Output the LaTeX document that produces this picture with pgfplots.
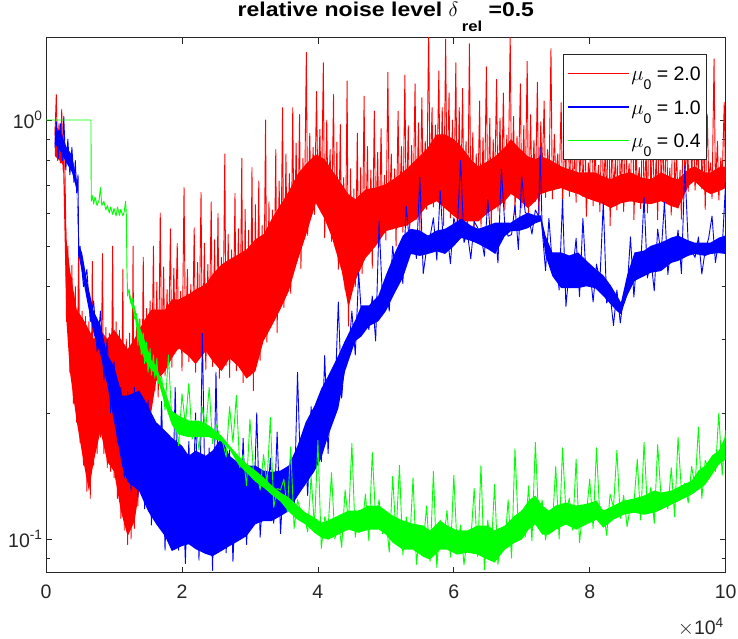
\documentclass[border=0pt]{standalone}
\usepackage{fontspec}
\setmainfont{Liberation Sans}
\newfontfamily\titlefont{Liberation Sans}[FakeStretch=1.15]
\usepackage{pgfplots}
\pgfplotsset{compat=1.18}
\definecolor{mred}{rgb}{1,0,0}
\definecolor{mblue}{rgb}{0,0,1}
\definecolor{mgreen}{rgb}{0,1,0}
\begin{document}
\begin{tikzpicture}
\begin{axis}[
  scale only axis, width=679.5pt, height=534.8pt,
  xmin=0, xmax=10, ymode=log, ymin=0.0832, ymax=1.572,
  xtick={0,2,4,6,8,10},
  ytick={0.1,1}, yticklabels={10\textsuperscript{-1},10\textsuperscript{0}},
  minor ytick={0.09,0.2,0.3,0.4,0.5,0.6,0.7,0.8,0.9},
  major tick length=6pt, minor tick length=3.5pt,
  axis line style={black!85, line width=0.8pt},
  tick style={black!85, line width=0.8pt},
  tick label style={font=\fontsize{19.5}{19.5}\selectfont, text=black!85},
  /pgf/number format/assume math mode=true,
  xticklabel style={yshift=-9pt},
  title={\titlefont\bfseries relative noise level $\delta$\,\raisebox{-15pt}{\fontsize{14.5}{14.5}\selectfont rel} =0.5},
  title style={at={(0.5,1)}, anchor=base, yshift=14.7pt, font=\fontsize{20}{20}\selectfont},
  legend style={at={(0.9726,0.9695)}, anchor=north east, draw=black!85, line width=0.6pt, fill=white,
    inner xsep=4pt, inner ysep=4pt, font=\fontsize{19.5}{19.5}\selectfont, row sep=3.7pt,
    nodes={inner sep=2pt, text height=20pt, text depth=6pt}},
  legend cell align=left,
  legend image code/.code={\draw[#1] (0pt,0pt) -- (61pt,0pt);},
  every axis plot/.append style={line join=round},
]
\coordinate (SW) at (rel axis cs:0,0);
\coordinate (SE) at (rel axis cs:1,0);
\coordinate (NE) at (rel axis cs:1,1);
\addlegendimage{draw=mred, line width=1.1pt}
\addlegendentry{$\mu$\raisebox{-9pt}{\fontsize{14}{14}\selectfont 0} = 2.0}
\addlegendimage{draw=mblue, line width=1.1pt}
\addlegendentry{$\mu$\raisebox{-9pt}{\fontsize{14}{14}\selectfont 0} = 1.0}
\addlegendimage{draw=mgreen, line width=1.1pt}
\addlegendentry{$\mu$\raisebox{-9pt}{\fontsize{14}{14}\selectfont 0} = 0.4}
% ---------- red band
\addplot[fill=mred, draw=none, forget plot] coordinates {
(0.13,0.97)(0.2,0.944)(0.25,0.918)(0.3,0.52)(0.35,0.44)(0.45,0.353)(0.55,0.334)(0.63,0.316)(0.7,0.30)(0.8,0.316)(0.9,0.30)(1.0,0.316)(1.1,0.30)(1.2,0.284)(1.3,0.30)(1.37,0.316)(1.45,0.334)(1.55,0.353)(1.62,0.353)(1.75,0.353)(1.85,0.373)(1.95,0.373)(2.1,0.384)(2.2,0.394)(2.35,0.406)(2.45,0.428)(2.58,0.452)(2.7,0.465)(2.83,0.478)(2.95,0.491)(3.08,0.519)(3.2,0.534)(3.32,0.58)(3.45,0.629)(3.57,0.675)(3.7,0.742)(3.82,0.784)(3.97,0.828)(4.1,0.806)(4.2,0.763)(4.35,0.703)(4.45,0.665)(4.55,0.647)(4.7,0.683)(4.85,0.69)(5.0,0.703)(5.15,0.73)(5.3,0.763)(5.45,0.806)(5.6,0.851)(5.75,0.924)(5.87,0.924)(6.0,0.90)(6.11,0.865)(6.25,0.806)(6.36,0.775)(6.5,0.797)(6.61,0.819)(6.75,0.861)(6.84,0.90)(6.95,0.861)(7.09,0.819)(7.2,0.806)(7.28,0.819)(7.4,0.806)(7.58,0.775)(7.7,0.763)(7.83,0.75)(7.95,0.75)(8.08,0.75)(8.2,0.733)(8.31,0.722)(8.46,0.742)(8.6,0.75)(8.75,0.73)(8.9,0.722)(9.05,0.75)(9.2,0.73)(9.3,0.722)(9.45,0.763)(9.54,0.775)(9.7,0.75)(9.78,0.75)(9.9,0.771)(10,0.775)
(10,0.688)(9.9,0.676)(9.78,0.666)(9.7,0.676)(9.54,0.715)(9.45,0.695)(9.3,0.616)(9.2,0.623)(9.05,0.64)(8.9,0.63)(8.75,0.633)(8.6,0.64)(8.46,0.633)(8.31,0.616)(8.2,0.63)(8.08,0.64)(7.95,0.651)(7.83,0.666)(7.7,0.676)(7.58,0.688)(7.4,0.676)(7.28,0.666)(7.2,0.64)(7.09,0.616)(6.95,0.648)(6.84,0.666)(6.75,0.64)(6.61,0.616)(6.5,0.60)(6.36,0.573)(6.25,0.573)(6.11,0.573)(6.0,0.59)(5.87,0.616)(5.75,0.64)(5.6,0.623)(5.45,0.58)(5.3,0.559)(5.15,0.552)(5.0,0.543)(4.85,0.50)(4.7,0.468)(4.55,0.413)(4.45,0.356)(4.35,0.436)(4.2,0.528)(4.1,0.58)(3.97,0.633)(3.82,0.528)(3.7,0.461)(3.57,0.39)(3.45,0.354)(3.32,0.322)(3.2,0.297)(3.08,0.2515)(2.95,0.2415)(2.83,0.258)(2.7,0.27)(2.58,0.2515)(2.45,0.266)(2.35,0.281)(2.2,0.2615)(2.1,0.273)(1.95,0.2856)(1.85,0.27)(1.75,0.2515)(1.62,0.238)(1.55,0.202)(1.45,0.171)(1.37,0.130)(1.3,0.110)(1.2,0.1016)(1.1,0.1166)(1.0,0.145)(0.9,0.153)(0.8,0.181)(0.7,0.153)(0.63,0.130)(0.55,0.153)(0.45,0.191)(0.35,0.251)(0.3,0.33)(0.25,0.78)(0.2,0.80)(0.13,0.82)
};
\addplot[mred, line width=0.9pt, forget plot] coordinates {
(0.13,0.92)(0.15,1.15)(0.17,0.80)(0.19,0.98)(0.21,0.79)(0.23,1.06)(0.25,0.76)(0.27,0.92)(0.29,0.55)(0.30,0.33)(0.32,0.50)(0.35,0.25)(0.38,0.45)(0.40,0.21)(0.43,0.40)(0.45,0.19)(0.48,0.52)(0.50,0.17)(0.53,0.35)(0.55,0.15)(0.58,0.34)(0.60,0.13)(0.63,0.33)(0.65,0.125)(0.68,0.46)(0.70,0.15)(0.73,0.32)(0.75,0.16)(0.78,0.33)(0.80,0.175)(0.83,0.48)(0.85,0.16)(0.88,0.32)(0.90,0.148)(0.93,0.31)(0.95,0.145)(0.98,0.50)(1.00,0.14)(1.03,0.33)(1.05,0.125)(1.08,0.315)(1.10,0.112)(1.13,0.44)(1.15,0.105)(1.18,0.30)(1.20,0.097)(1.23,0.31)(1.25,0.10)(1.28,0.50)(1.30,0.106)(1.33,0.32)(1.35,0.12)(1.38,0.335)(1.40,0.14)(1.43,0.47)(1.45,0.165)(1.48,0.355)
(1.50,0.18)(1.53,0.37)(1.55,0.218)(1.58,0.50)(1.60,0.226)(1.63,0.41)(1.65,0.218)(1.68,0.60)(1.70,0.27)(1.73,0.446)(1.75,0.245)(1.78,0.394)(1.80,0.27)(1.83,0.55)(1.85,0.257)(1.88,0.443)(1.90,0.297)(1.93,0.507)(1.95,0.284)(1.98,0.39)(2.00,0.252)(2.03,0.69)(2.05,0.30)(2.08,0.44)(2.10,0.265)(2.13,0.405)(2.15,0.275)(2.18,0.553)(2.20,0.25)(2.23,0.457)(2.25,0.286)(2.28,0.672)(2.30,0.275)(2.33,0.508)(2.35,0.254)(2.38,0.452)(2.40,0.30)(2.43,0.638)(2.45,0.258)(2.48,0.518)(2.50,0.268)(2.53,0.598)(2.55,0.242)(2.58,0.47)(2.60,0.269)(2.63,0.83)(2.65,0.26)(2.68,0.534)(2.70,0.243)(2.73,0.49)(2.75,0.29)(2.78,0.668)(2.80,0.252)(2.83,0.55)(2.85,0.262)(2.88,0.81)(2.90,0.236)(2.93,0.612)(2.95,0.258)(2.98,0.546)(3.00,0.245)(3.03,0.77)(3.05,0.226)(3.08,0.628)(3.10,0.282)(3.13,0.715)(3.15,0.267)(3.18,0.56)(3.20,0.302)(3.23,1.0)(3.25,0.295)(3.28,0.638)
(3.30,0.347)(3.33,0.61)(3.35,0.331)(3.38,0.85)(3.40,0.311)(3.43,0.715)(3.45,0.388)(3.48,1.07)(3.50,0.357)(3.53,0.83)(3.55,0.394)(3.58,0.745)(3.60,0.385)(3.63,1.07)(3.65,0.46)(3.68,0.88)(3.70,0.461)(3.73,1.03)(3.75,0.442)(3.78,0.81)(3.80,0.564)(3.83,1.45)(3.85,0.53)(3.88,0.93)(3.90,0.60)(3.93,0.86)(3.95,0.595)(3.98,1.17)(4.00,0.66)(4.03,0.95)(4.05,0.60)(4.08,1.37)(4.10,0.524)(4.13,1.0)(4.15,0.606)(4.18,0.85)(4.20,0.513)(4.23,1.15)(4.25,0.508)(4.28,0.886)(4.30,0.44)(4.33,0.975)(4.35,0.465)(4.38,0.73)(4.40,0.394)(4.43,1.24)(4.45,0.322)(4.48,0.765)(4.50,0.42)(4.53,0.685)(4.55,0.40)(4.58,0.93)(4.60,0.443)(4.63,0.77)(4.65,0.43)(4.68,1.14)(4.70,0.50)(4.73,0.864)(4.75,0.479)(4.78,0.76)(4.80,0.443)(4.83,1.05)(4.85,0.547)(4.88,0.837)(4.90,0.50)(4.93,0.953)(4.95,0.543)(4.98,0.738)
(5.00,0.517)(5.03,1.30)(5.05,0.582)(5.08,0.83)(5.10,0.549)(5.13,0.765)(5.15,0.50)(5.18,1.05)(5.20,0.607)(5.23,0.864)(5.25,0.54)(5.28,1.28)(5.30,0.575)(5.33,0.97)(5.35,0.539)(5.38,0.87)(5.40,0.61)(5.43,1.22)(5.45,0.58)(5.48,0.985)(5.50,0.537)(5.53,1.13)(5.55,0.667)(5.58,0.89)(5.60,0.612)(5.63,1.68)(5.65,0.678)(5.68,1.07)(5.70,0.62)(5.73,0.973)(5.75,0.683)(5.78,1.31)(5.80,0.63)(5.83,1.07)(5.85,0.56)(5.88,1.56)(5.90,0.67)(5.93,1.16)(5.95,0.584)(5.98,1.0)(6.00,0.607)(6.03,1.37)(6.05,0.555)(6.08,1.07)(6.10,0.613)(6.13,1.19)(6.15,0.573)(6.18,0.89)(6.20,0.519)(6.23,1.52)(6.25,0.628)(6.28,0.933)(6.30,0.557)(6.33,0.83)(6.35,0.59)(6.38,1.11)(6.40,0.555)(6.43,0.908)(6.45,0.63)(6.48,1.34)(6.50,0.60)(6.53,1.01)(6.55,0.549)(6.58,0.898)(6.60,0.674)(6.63,1.25)(6.65,0.607)(6.68,1.01)(6.70,0.651)(6.73,1.16)(6.75,0.61)(6.78,0.92)(6.80,0.697)(6.83,1.6)(6.85,0.666)(6.88,1.02)(6.90,0.594)(6.93,0.915)(6.95,0.71)(6.98,1.22)(7.00,0.617)(7.03,0.97)(7.05,0.643)(7.08,1.38)(7.10,0.588)(7.13,1.03)(7.15,0.672)(7.18,0.895)(7.20,0.64)(7.23,1.23)(7.25,0.594)(7.28,0.99)(7.30,0.731)(7.33,1.11)(7.35,0.653)(7.38,0.85)(7.40,0.696)(7.43,1.48)(7.45,0.648)(7.48,0.924)(7.50,0.729)(7.53,0.83)(7.55,0.687)(7.58,1.1)(7.60,0.62)(7.63,0.89)(7.65,0.745)(7.68,1.29)(7.70,0.657)(7.73,0.96)(7.75,0.691)(7.78,0.835)(7.80,0.636)(7.83,1.15)(7.85,0.708)(7.88,0.91)(7.90,0.657)(7.93,1.03)(7.95,0.589)(7.98,0.79)
(8.00,0.708)(8.03,1.38)(8.05,0.624)(8.08,0.87)(8.10,0.657)(8.13,0.78)(8.15,0.604)(8.18,1.05)(8.20,0.672)(8.23,0.847)(8.25,0.625)(8.28,1.22)(8.30,0.559)(8.33,0.914)(8.35,0.68)(8.38,0.81)(8.40,0.61)(8.43,1.12)(8.45,0.651)(8.48,0.903)(8.50,0.605)(8.53,1.02)(8.55,0.681)(8.58,0.787)(8.60,0.64)(8.63,1.37)(8.65,0.578)(8.68,0.853)(8.70,0.696)(8.73,0.77)(8.75,0.615)(8.78,1.03)(8.80,0.65)(8.83,0.838)(8.85,0.60)(8.88,1.22)(8.90,0.672)(8.93,0.924)(8.95,0.635)(8.98,0.824)(9.00,0.578)(9.03,1.15)(9.05,0.70)(9.08,0.897)(9.10,0.615)(9.13,1.0)(9.15,0.645)(9.18,0.768)(9.20,0.593)(9.23,1.34)(9.25,0.661)(9.28,0.838)(9.30,0.616)(9.33,0.76)(9.35,0.58)(9.38,1.06)(9.40,0.736)(9.43,0.88)(9.45,0.675)(9.48,1.3)(9.50,0.726)(9.53,0.978)(9.55,0.68)(9.58,0.85)(9.60,0.745)(9.63,1.16)(9.65,0.685)(9.68,0.914)(9.70,0.612)(9.73,1.03)(9.75,0.734)(9.78,0.79)(9.80,0.649)(9.83,1.4)(9.85,0.691)(9.88,0.89)(9.90,0.644)(9.93,0.812)(9.95,0.728)(9.98,1.1)(10.00,0.688)
};
% ---------- blue band
\addplot[fill=mblue, draw=none, forget plot] coordinates {
(0.13,0.937)(0.2,0.947)(0.3,0.862)(0.38,0.825)(0.45,0.719)(0.48,0.503)(0.53,0.482)(0.6,0.415)(0.7,0.35)(0.8,0.324)(0.9,0.275)(1.0,0.259)(1.12,0.22)(1.2,0.22)(1.37,0.226)(1.5,0.208)(1.62,0.19)(1.75,0.1815)(1.85,0.1746)(2.0,0.167)(2.1,0.158)(2.2,0.1626)(2.35,0.158)(2.45,0.1626)(2.58,0.1746)(2.7,0.158)(2.83,0.152)(2.95,0.1497)(3.08,0.1497)(3.2,0.1457)(3.32,0.1445)(3.45,0.1457)(3.57,0.1497)(3.7,0.167)(3.82,0.19)(3.95,0.208)(4.05,0.2286)(4.15,0.245)(4.3,0.274)(4.4,0.298)(4.55,0.333)(4.64,0.361)(4.75,0.361)(4.89,0.381)(5.0,0.426)(5.14,0.485)(5.25,0.53)(5.37,0.55)(5.5,0.545)(5.62,0.53)(5.75,0.545)(5.87,0.55)(6.0,0.566)(6.11,0.582)(6.25,0.56)(6.36,0.55)(6.5,0.56)(6.61,0.569)(6.75,0.569)(6.84,0.569)(6.95,0.585)(7.09,0.601)(7.2,0.592)(7.28,0.592)(7.35,0.53)(7.45,0.483)(7.58,0.483)(7.7,0.475)(7.83,0.483)(7.95,0.462)(8.08,0.442)(8.2,0.426)(8.31,0.403)(8.4,0.381)(8.46,0.367)(8.55,0.426)(8.66,0.483)(8.8,0.488)(8.9,0.501)(9.05,0.51)(9.2,0.524)(9.3,0.53)(9.45,0.516)(9.54,0.51)(9.7,0.51)(9.78,0.51)(9.9,0.524)(10,0.53)
(10,0.479)(9.9,0.481)(9.78,0.479)(9.7,0.474)(9.54,0.479)(9.45,0.474)(9.3,0.461)(9.2,0.456)(9.05,0.436)(8.9,0.432)(8.8,0.424)(8.66,0.413)(8.55,0.38)(8.46,0.344)(8.4,0.35)(8.31,0.363)(8.2,0.38)(8.08,0.397)(7.95,0.401)(7.83,0.397)(7.7,0.397)(7.58,0.397)(7.45,0.424)(7.35,0.474)(7.28,0.573)(7.2,0.567)(7.09,0.552)(6.95,0.543)(6.84,0.543)(6.75,0.528)(6.61,0.479)(6.5,0.492)(6.36,0.506)(6.25,0.515)(6.11,0.523)(6.0,0.50)(5.87,0.479)(5.75,0.486)(5.62,0.479)(5.5,0.474)(5.37,0.479)(5.25,0.42)(5.14,0.389)(5.0,0.35)(4.89,0.331)(4.75,0.322)(4.64,0.3045)(4.55,0.2966)(4.4,0.2515)(4.3,0.205)(4.15,0.176)(4.05,0.156)(3.95,0.1452)(3.82,0.1352)(3.7,0.1265)(3.57,0.1166)(3.45,0.1134)(3.32,0.1104)(3.2,0.1104)(3.08,0.1085)(2.95,0.1016)(2.83,0.0989)(2.7,0.0962)(2.58,0.0936)(2.45,0.091)(2.35,0.0921)(2.2,0.0946)(2.1,0.0972)(2.0,0.0962)(1.85,0.0936)(1.75,0.1016)(1.62,0.1085)(1.5,0.1166)(1.37,0.130)(1.2,0.137)(1.12,0.149)(1.0,0.191)(0.9,0.233)(0.8,0.275)(0.7,0.309)(0.6,0.372)(0.53,0.429)(0.48,0.476)(0.45,0.681)(0.38,0.751)(0.3,0.790)(0.2,0.848)(0.13,0.877)
};
\addplot[mblue, line width=0.9pt, forget plot] coordinates {
(0.13,0.86)(0.15,0.99)(0.18,0.81)(0.21,0.98)(0.24,0.80)(0.26,1.02)(0.29,0.76)(0.32,0.90)(0.35,0.74)(0.38,0.86)(0.41,0.71)(0.43,0.80)(0.45,0.67)(0.47,0.74)(0.48,0.47)(0.50,0.50)(0.55,0.40)(0.60,0.44)(0.65,0.33)(0.70,0.37)(0.75,0.28)(0.80,0.35)(0.85,0.24)(0.90,0.30)(0.95,0.20)(1.00,0.265)(1.05,0.17)(1.10,0.23)(1.15,0.14)(1.20,0.225)(1.25,0.13)(1.30,0.23)(1.35,0.126)(1.40,0.22)(1.45,0.118)
(1.50,0.215)(1.55,0.108)(1.60,0.184)(1.65,0.110)(1.70,0.213)(1.75,0.094)(1.80,0.177)(1.85,0.10)(1.90,0.23)(1.95,0.094)(2.00,0.155)(2.05,0.0874)(2.10,0.171)(2.15,0.105)(2.20,0.20)(2.25,0.089)(2.30,0.31)(2.35,0.0947)(2.40,0.165)(2.45,0.0841)(2.50,0.25)(2.55,0.0986)(2.60,0.164)(2.65,0.0927)(2.70,0.163)(2.75,0.0884)(2.80,0.147)(2.85,0.109)(2.90,0.174)(2.95,0.097)(3.00,0.148)(3.05,0.11)(3.10,0.20)(3.15,0.101)(3.20,0.135)(3.25,0.118)(3.30,0.156)(3.35,0.109)(3.40,0.18)(3.45,0.103)(3.50,0.144)(3.55,0.127)(3.60,0.158)(3.65,0.117)(3.70,0.25)(3.75,0.134)(3.80,0.177)(3.85,0.127)(3.90,0.207)(3.95,0.155)(4.00,0.209)(4.05,0.153)(4.10,0.274)(4.15,0.16)(4.20,0.252)(4.25,0.214)(4.30,0.368)(4.35,0.217)(4.40,0.276)(4.45,0.275)(4.50,0.35)(4.55,0.275)(4.60,0.432)(4.65,0.325)(4.70,0.353)(4.75,0.316)(4.80,0.38)(4.85,0.297)(4.90,0.573)(4.95,0.374)
(5.00,0.404)(5.05,0.35)(5.10,0.50)(5.15,0.421)(5.20,0.502)(5.25,0.407)(5.30,0.622)(5.35,0.504)(5.40,0.542)(5.45,0.467)(5.50,0.73)(5.55,0.43)(5.60,0.493)(5.65,0.526)(5.70,0.584)(5.75,0.463)(5.80,0.678)(5.85,0.494)(5.90,0.542)(5.95,0.454)(6.00,0.584)(6.05,0.544)(6.10,0.80)(6.15,0.51)(6.20,0.538)(6.25,0.466)(6.30,0.572)(6.35,0.554)(6.40,0.53)(6.45,0.473)(6.50,0.646)(6.55,0.50)(6.60,0.564)(6.65,0.456)(6.70,0.763)(6.75,0.563)(6.80,0.528)(6.85,0.533)(6.90,0.626)(6.95,0.491)(7.00,0.732)(7.05,0.603)(7.10,0.589)(7.15,0.534)(7.20,0.61)(7.25,0.588)(7.27,0.86)(7.30,0.55)(7.35,0.437)(7.40,0.582)(7.45,0.452)(7.50,0.478)(7.55,0.393)(7.60,0.646)(7.65,0.359)(7.70,0.441)(7.75,0.435)(7.80,0.522)(7.85,0.379)(7.90,0.582)(7.95,0.413)
(8.00,0.445)(8.05,0.368)(8.10,0.453)(8.15,0.413)(8.20,0.637)(8.25,0.366)(8.30,0.384)(8.35,0.323)(8.40,0.393)(8.45,0.328)(8.50,0.381)(8.55,0.391)(8.60,0.526)(8.65,0.378)(8.70,0.48)(8.75,0.448)(8.80,0.654)(8.85,0.42)(8.90,0.465)(8.95,0.391)(9.00,0.549)(9.05,0.477)(9.10,0.637)(9.15,0.428)(9.20,0.513)(9.25,0.471)(9.30,0.546)(9.35,0.43)(9.40,0.777)(9.45,0.505)(9.50,0.487)(9.55,0.47)(9.60,0.526)(9.65,0.429)(9.70,0.489)(9.75,0.522)(9.80,0.59)(9.85,0.457)(9.90,0.518)(9.95,0.494)(10.00,0.71)
};
% ---------- green band
\addplot[fill=mgreen, draw=none, forget plot] coordinates {
(1.22,0.388)(1.3,0.361)(1.37,0.323)(1.45,0.298)(1.55,0.267)(1.62,0.259)(1.75,0.226)(1.85,0.2025)(1.95,0.197)(2.1,0.1918)(2.25,0.1918)(2.4,0.1865)(2.58,0.1765)(2.7,0.167)(2.83,0.158)(2.95,0.1513)(3.08,0.1457)(3.2,0.1404)(3.32,0.1342)(3.45,0.1291)(3.57,0.1256)(3.7,0.1202)(3.82,0.1156)(3.95,0.1125)(4.05,0.1094)(4.15,0.1107)(4.3,0.1138)(4.45,0.1169)(4.6,0.1169)(4.75,0.1202)(4.9,0.1202)(5.0,0.1169)(5.1,0.1138)(5.25,0.1107)(5.4,0.1088)(5.55,0.1077)(5.65,0.1048)(5.8,0.1107)(5.9,0.1077)(6.05,0.1048)(6.2,0.1048)(6.35,0.1077)(6.5,0.1077)(6.6,0.1048)(6.75,0.1077)(6.9,0.1138)(7.0,0.1169)(7.1,0.1235)(7.2,0.127)(7.3,0.1202)(7.4,0.1169)(7.5,0.1202)(7.65,0.1222)(7.8,0.1202)(7.95,0.1213)(8.1,0.1235)(8.2,0.1169)(8.35,0.1202)(8.5,0.1235)(8.65,0.1249)(8.8,0.127)(8.95,0.1305)(9.05,0.1291)(9.2,0.1305)(9.35,0.1342)(9.5,0.1378)(9.6,0.1457)(9.7,0.1497)(9.8,0.1582)(9.9,0.1626)(10,0.1765)
(10,0.1547)(9.9,0.1505)(9.8,0.1424)(9.7,0.1348)(9.6,0.1311)(9.5,0.1276)(9.35,0.1241)(9.2,0.1208)(9.05,0.1175)(8.95,0.1156)(8.8,0.1143)(8.65,0.1156)(8.5,0.1143)(8.35,0.1112)(8.2,0.1064)(8.1,0.1112)(7.95,0.1083)(7.8,0.1053)(7.65,0.1083)(7.5,0.1053)(7.4,0.1025)(7.3,0.1025)(7.2,0.1083)(7.1,0.1053)(7.0,0.0997)(6.9,0.0981)(6.75,0.0943)(6.6,0.0879)(6.5,0.0893)(6.35,0.0918)(6.2,0.0928)(6.05,0.0918)(5.9,0.0943)(5.8,0.0943)(5.65,0.0893)(5.55,0.0907)(5.4,0.0943)(5.25,0.0943)(5.1,0.0981)(5.0,0.1025)(4.9,0.1053)(4.75,0.1053)(4.6,0.1035)(4.45,0.1053)(4.3,0.1025)(4.15,0.0997)(4.05,0.1008)(3.95,0.1035)(3.82,0.1083)(3.7,0.1112)(3.57,0.1162)(3.45,0.1228)(3.32,0.1276)(3.2,0.1327)(3.08,0.137)(2.95,0.144)(2.83,0.1505)(2.7,0.1635)(2.58,0.1708)(2.4,0.175)(2.25,0.175)(2.1,0.175)(1.95,0.1775)(1.85,0.1875)(1.75,0.2093)(1.62,0.2467)(1.55,0.2534)(1.45,0.2678)(1.37,0.291)(1.3,0.343)(1.22,0.377)
};
\addplot[mgreen, line width=0.9pt, forget plot] coordinates {
(0,1.0)(0.66,1.0)(0.665,0.64)(0.68,0.66)(0.70,0.63)(0.72,0.655)(0.75,0.625)(0.78,0.645)(0.80,0.69)(0.82,0.625)(0.85,0.64)(0.88,0.61)(0.90,0.625)(0.93,0.60)(0.95,0.62)(0.98,0.595)(1.00,0.615)(1.03,0.59)(1.05,0.62)(1.08,0.592)(1.10,0.612)(1.13,0.59)(1.15,0.605)(1.17,0.64)(1.18,0.60)(1.19,0.44)(1.20,0.38)(1.22,0.395)(1.25,0.365)(1.28,0.375)(1.30,0.335)(1.33,0.345)(1.35,0.29)(1.37,0.335)(1.40,0.275)(1.43,0.31)(1.45,0.262)(1.48,0.295)(1.50,0.25)(1.53,0.285)(1.55,0.246)(1.58,0.275)(1.60,0.242)(1.63,0.27)(1.65,0.235)
(1.70,0.245)(1.75,0.203)(1.80,0.275)(1.85,0.193)(1.90,0.196)(1.95,0.167)(2.00,0.222)(2.05,0.188)(2.10,0.235)(2.15,0.173)(2.20,0.192)(2.25,0.163)(2.30,0.206)(2.35,0.184)(2.40,0.23)(2.45,0.169)(2.50,0.188)(2.55,0.177)(2.60,0.17)(2.65,0.157)(2.70,0.207)(2.75,0.17)(2.80,0.22)(2.85,0.148)(2.90,0.159)(2.95,0.134)(3.00,0.193)(3.05,0.146)(3.10,0.143)(3.15,0.131)(3.20,0.159)(3.25,0.135)(3.30,0.195)(3.35,0.119)(3.40,0.132)(3.45,0.131)(3.50,0.139)(3.55,0.116)(3.60,0.166)(3.65,0.106)(3.70,0.124)(3.75,0.116)(3.80,0.113)(3.85,0.104)(3.90,0.141)(3.95,0.107)
(4.00,0.172)(4.05,0.095)(4.10,0.113)(4.15,0.106)(4.20,0.144)(4.25,0.10)(4.30,0.111)(4.35,0.0955)(4.40,0.131)(4.45,0.11)(4.50,0.169)(4.55,0.101)(4.60,0.117)(4.65,0.107)(4.70,0.128)(4.75,0.099)(4.80,0.161)(4.85,0.112)(4.90,0.124)(4.95,0.103)(5.00,0.113)(5.05,0.093)(5.10,0.141)(5.15,0.102)(5.20,0.15)(5.25,0.0916)(5.30,0.113)(5.35,0.097)(5.40,0.14)(5.45,0.087)(5.50,0.105)(5.55,0.097)(5.60,0.12)(5.65,0.0884)(5.70,0.145)(5.75,0.0855)(5.80,0.111)(5.85,0.099)(5.90,0.117)(5.95,0.0905)
(6.00,0.142)(6.05,0.0944)(6.10,0.108)(6.15,0.0868)(6.20,0.102)(6.25,0.099)(6.30,0.132)(6.35,0.0909)(6.40,0.15)(6.45,0.0845)(6.50,0.111)(6.55,0.093)(6.60,0.135)(6.65,0.087)(6.70,0.1045)(6.75,0.097)(6.80,0.124)(6.85,0.09)(6.90,0.164)(6.95,0.106)(7.00,0.117)(7.05,0.101)(7.10,0.134)(7.15,0.099)(7.20,0.17)(7.25,0.11)(7.30,0.124)(7.35,0.0995)(7.40,0.113)(7.45,0.107)(7.50,0.149)(7.55,0.10)(7.60,0.165)(7.65,0.116)(7.70,0.125)(7.75,0.105)(7.80,0.155)(7.85,0.098)(7.90,0.118)(7.95,0.114)
(8.00,0.139)(8.05,0.106)(8.10,0.165)(8.15,0.112)(8.20,0.117)(8.25,0.102)(8.30,0.128)(8.35,0.119)(8.40,0.163)(8.45,0.112)(8.50,0.127)(8.55,0.107)(8.60,0.12)(8.65,0.121)(8.70,0.155)(8.75,0.111)(8.80,0.17)(8.85,0.118)(8.90,0.133)(8.95,0.109)(9.00,0.168)(9.05,0.126)(9.10,0.127)(9.15,0.118)(9.20,0.148)(9.25,0.113)(9.30,0.175)(9.35,0.13)(9.40,0.136)(9.45,0.122)(9.50,0.149)(9.55,0.133)(9.60,0.185)(9.65,0.125)(9.70,0.154)(9.75,0.147)(9.80,0.153)(9.85,0.145)(9.90,0.20)(9.95,0.142)(10.00,0.182)
};
\end{axis}
\node[anchor=base east, inner sep=0pt, text=black!85, font=\fontsize{19.5}{19.5}\selectfont] at ([shift={(-1.6pt,-62.5pt)}]SE) {$\times$10\textsuperscript{4}};
\pgfresetboundingbox
\path ([shift={(-46.1pt,-66.5pt)}]SW) rectangle ([shift={(12.4pt,37.7pt)}]NE);
\end{tikzpicture}
\end{document}
